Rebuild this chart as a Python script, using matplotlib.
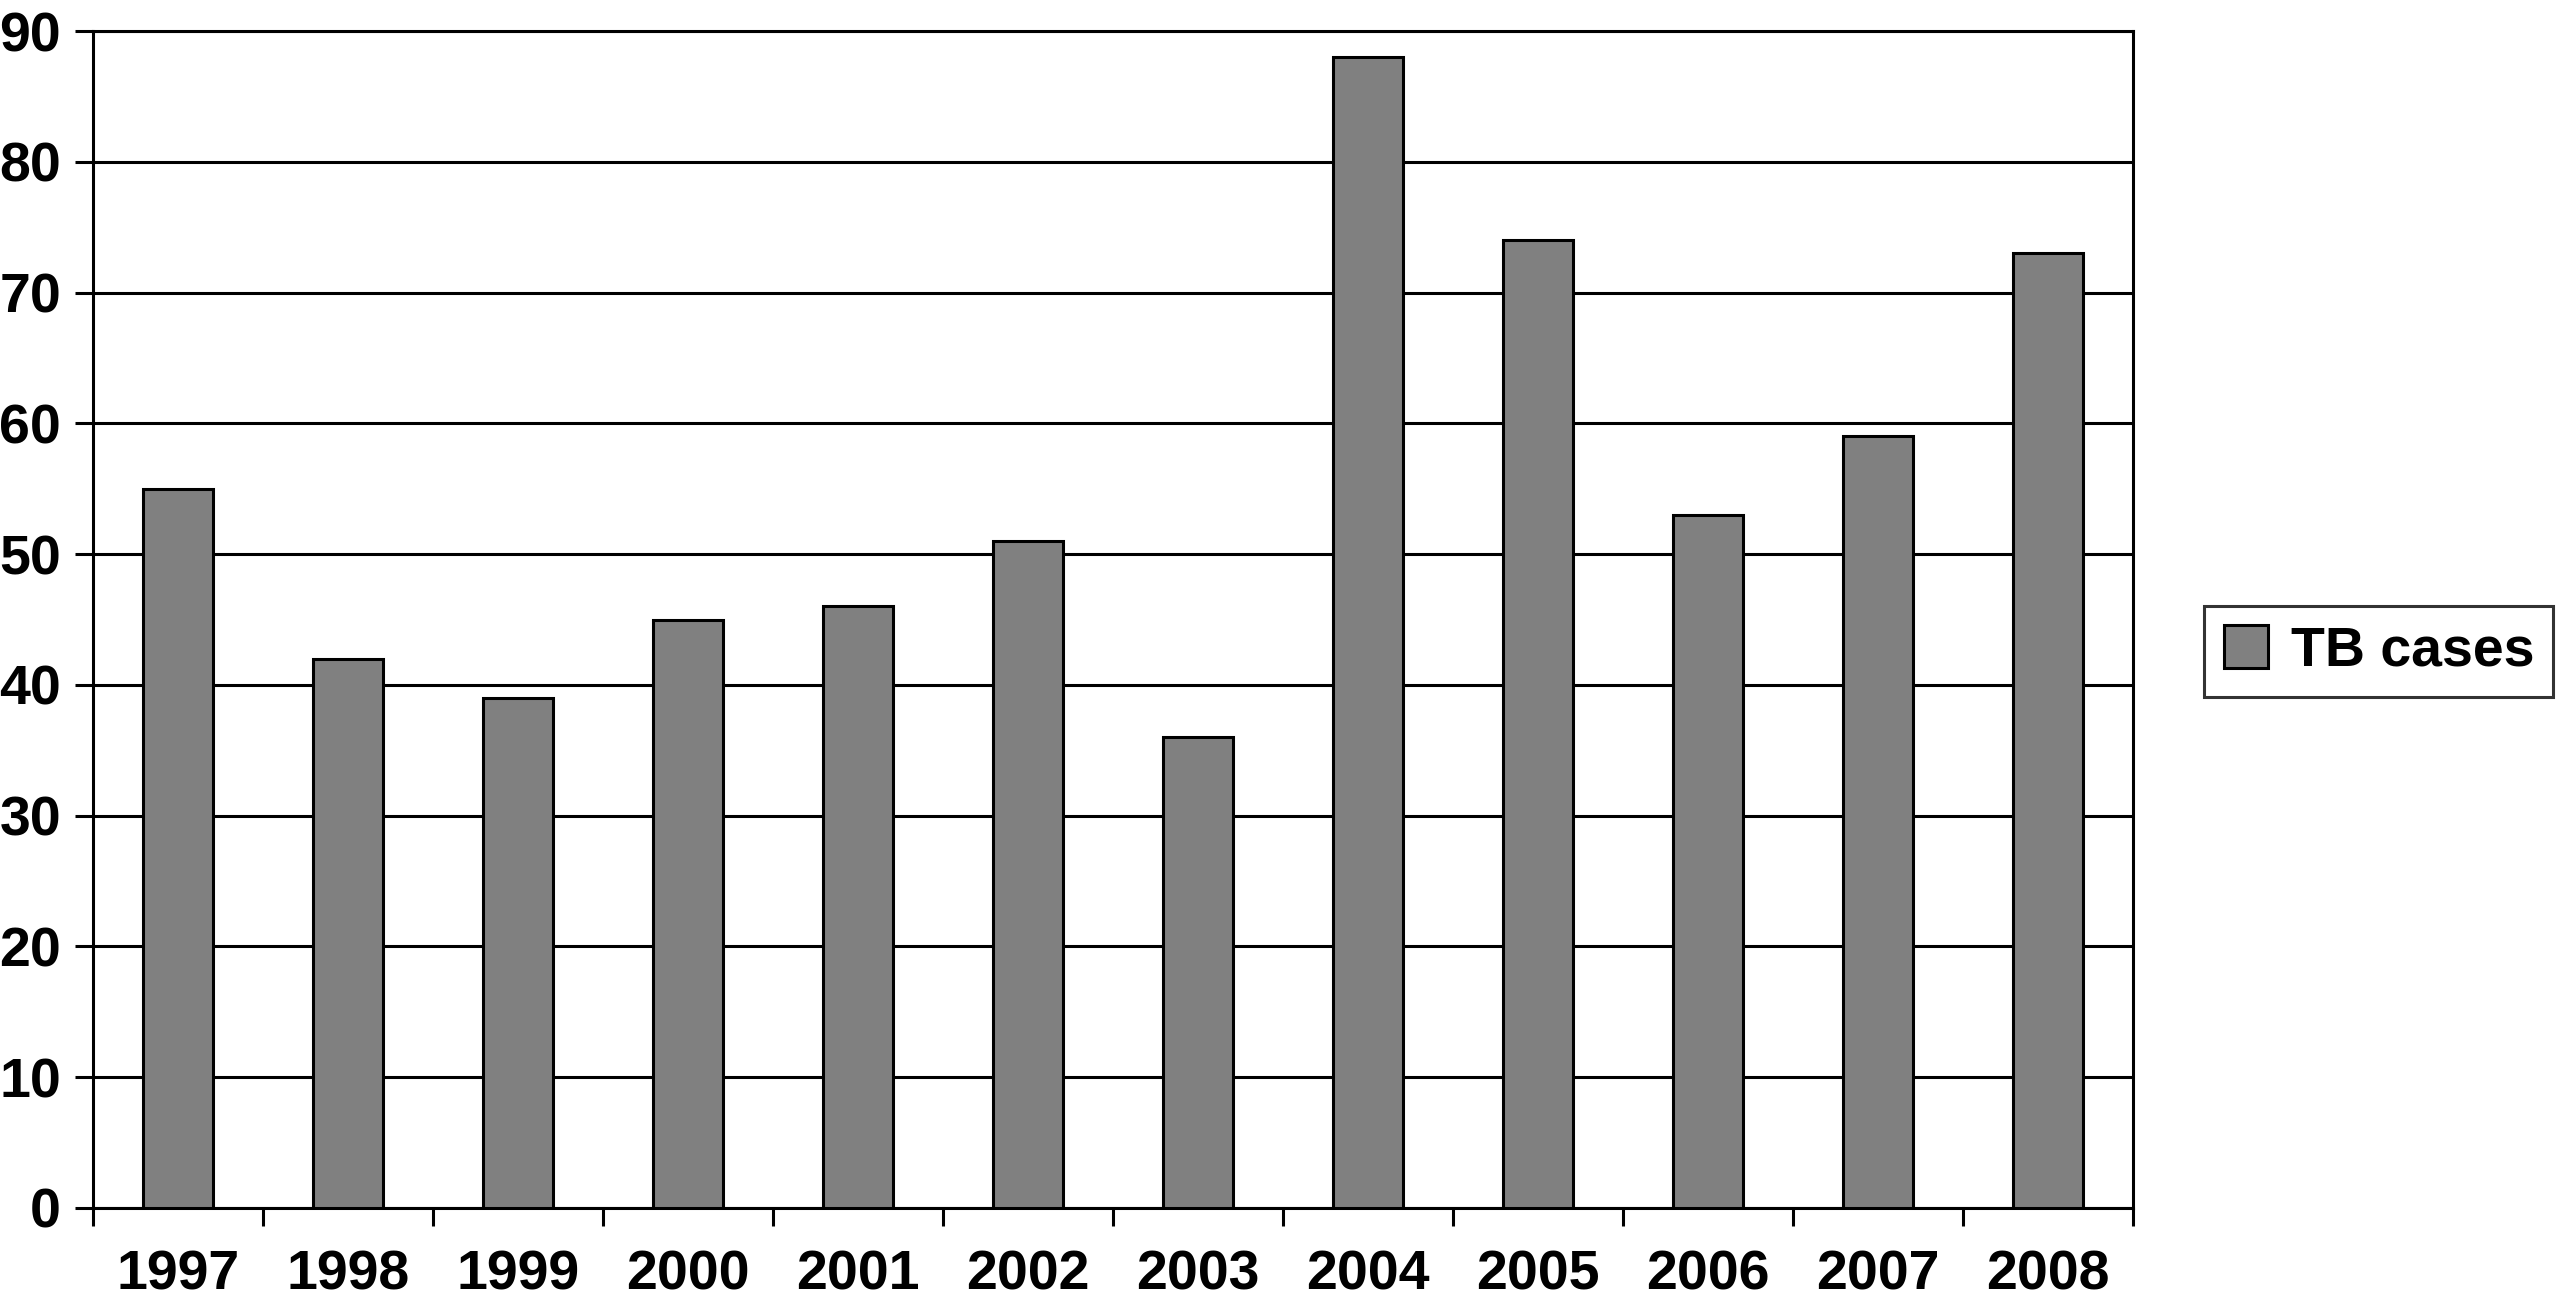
import matplotlib
matplotlib.use('Agg')
import matplotlib.pyplot as plt
import numpy as np

# TB cases per year
years = ['1997', '1998', '1999', '2000', '2001', '2002',
         '2003', '2004', '2005', '2006', '2007', '2008']
tb_cases = [55, 42, 39, 45, 46, 51, 36, 88, 74, 53, 59, 73]
y_ticks = [0, 10, 20, 30, 40, 50, 60, 70, 80, 90]

plt.rcParams['font.family'] = ['Liberation Sans', 'DejaVu Sans']
plt.rcParams['font.weight'] = 'bold'

fig = plt.figure(figsize=(25.56, 13.06), dpi=100)
ax = fig.add_axes([93 / 2556, 1 - 1208 / 1306, 2040 / 2556, 1177 / 1306])

lw = 2.2
x = np.arange(len(years))
ax.bar(x, tb_cases, width=0.41, color='#808080', edgecolor='black',
       linewidth=lw, label='TB cases', zorder=3)

ax.set_xlim(-0.5, len(years) - 0.5)
ax.set_ylim(0, 90)

# gridlines
ax.set_yticks(y_ticks)
ax.yaxis.grid(True, color='black', linewidth=lw, zorder=0)
ax.set_axisbelow(True)

# year labels centred, ticks between the bars
ax.set_xticks(x)
ax.set_xticklabels(years)
ax.set_xticks(np.arange(len(years) + 1) - 0.5, minor=True)
ax.tick_params(axis='x', which='major', length=0, pad=30, labelsize=40)
ax.tick_params(axis='x', which='minor', length=13, width=lw, direction='out')
ax.tick_params(axis='y', length=13, width=lw, pad=10, labelsize=40)

for s in ax.spines.values():
    s.set_linewidth(lw)
    s.set_color('black')

leg = ax.legend(loc='center left', bbox_to_anchor=(1.035, 0.473),
                fontsize=40, frameon=True, fancybox=False,
                handlelength=0.8, handleheight=0.8, handletextpad=0.4,
                borderpad=0.35, borderaxespad=0)
leg.get_frame().set_edgecolor('black')
leg.get_frame().set_linewidth(lw)

plt.savefig('out.png', dpi=100)
